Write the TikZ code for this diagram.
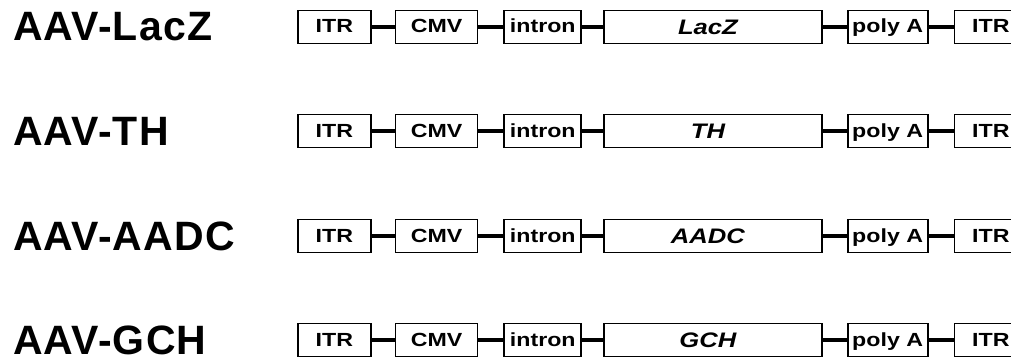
\documentclass[tikz,border=0pt]{standalone}
\usepackage{fontspec}
\setmainfont{Liberation Sans}
\newfontfamily\partfont[FakeStretch=1.22]{Liberation Sans}
\newfontfamily\vecfont[LetterSpace=3]{Liberation Sans}
\usetikzlibrary{positioning}

\begin{document}
\begin{tikzpicture}[
    x=1pt, y=-1pt,
    node distance=23pt,
    part/.style={
        rectangle,
        draw,
        line width=1.7pt,
        minimum height=33pt,
        inner sep=0pt,
        text height=13pt,
        text depth=1pt,
        font=\partfont\bfseries\fontsize{19}{19}\selectfont
    },
    gene/.style={
        part,
        minimum width=218pt,
        text height=15pt,
        text depth=0pt,
        font=\partfont\bfseries\itshape\fontsize{21}{21}\selectfont
    },
    link/.style={
        line width=4.5pt
    },
    vlabel/.style={
        anchor=west,
        inner sep=0pt,
        font=\vecfont\bfseries\fontsize{41}{41}\selectfont
    }
]
\useasboundingbox (0,0) rectangle (1011,361);

\foreach \gn/\y [count=\i] in {LacZ/27, TH/131, AADC/236, GCH/340} {
    \node[vlabel] (vec\i) at (13,\y) {AAV-\gn};
    \node[part, minimum width=73pt, anchor=west] (itrL\i) at (297,\y) {ITR};
    \node[part, minimum width=82pt, right=23pt of itrL\i] (cmv\i) {CMV};
    \node[part, minimum width=77pt, right=25pt of cmv\i] (intron\i) {intron};
    \node[gene, right=21pt of intron\i] (gene\i) {\gn\hspace*{10pt}};
    \node[part, minimum width=80pt, right=24pt of gene\i] (polyA\i) {poly A};
    \node[part, minimum width=73pt, right=25pt of polyA\i] (itrR\i) {ITR};

    \draw[link] (itrL\i) -- (cmv\i);
    \draw[link] (cmv\i) -- (intron\i);
    \draw[link] (intron\i) -- (gene\i);
    \draw[link] (gene\i) -- (polyA\i);
    \draw[link] (polyA\i) -- (itrR\i);
}

\end{tikzpicture}
\end{document}
